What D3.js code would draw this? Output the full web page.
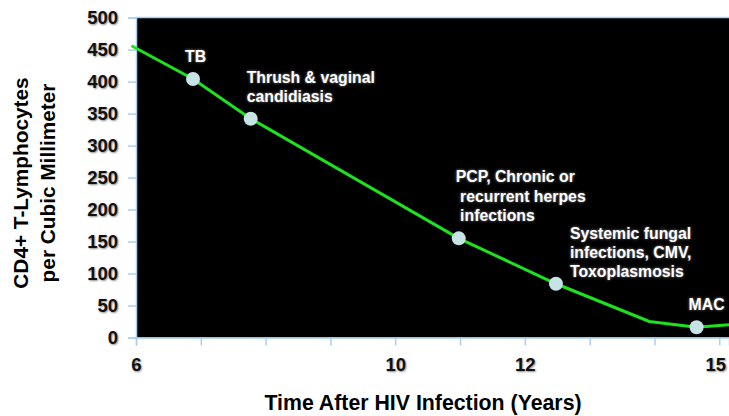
<!DOCTYPE html>
<html>
<head>
<meta charset="utf-8">
<script src="https://cdn.jsdelivr.net/npm/d3@7"></script>
<style>
  body { margin: 0; background: #fff; }
  #chart text { font-family: "Liberation Sans", Arial, sans-serif; font-weight: bold; }
  .tickText { text-shadow: 1px 1px 2px rgba(0,0,0,0.45); }
  .note { fill: #fff; white-space: pre; text-shadow: 0 0 3px rgba(255,255,255,0.55); }
</style>
</head>
<body>
<div id="chart"></div>
<script>
// CD4 decline curve (years after infection, cells per mm3)
let years = [5.93, 6.88, 7.77, 10.98, 12.48, 13.92, 14.65, 15.15]
let cd4 = [456, 404, 342, 155, 84, 25, 16, 20]

// Opportunistic infections marked on the curve
let eventYears = [6.88, 7.77, 10.98, 12.48, 14.65]
let eventCd4 = [404, 342, 155, 84, 16]
let eventLabels = [
    ["TB"],
    ["Thrush & vaginal", "candidiasis"],
    ["PCP, Chronic or", " recurrent herpes", " infections"],
    ["Systemic fungal", "infections, CMV,", "Toxoplasmosis"],
    ["MAC"]
]

// Axis ticks
let xTicks = [6, 7, 8, 9, 10, 11, 12, 13, 14, 15]
let xTickLabels = ["6", "", "", "", "10", "", "12", "", "", "15"]
let yTicks = [0, 50, 100, 150, 200, 250, 300, 350, 400, 450, 500]

const width = 729
const height = 416
const plotLeft = 136, plotRight = 729, plotTop = 17.6, plotBottom = 337.5

const svg = d3.select("#chart").append("svg")
    .attr("width", width)
    .attr("height", height)

const xScale = d3.scaleLinear().domain([6, 15.15]).range([plotLeft, plotRight])
const yScale = d3.scaleLinear().domain([0, 500]).range([plotBottom, plotTop])

// black plot area
svg.append("rect")
    .attr("x", plotLeft).attr("y", plotTop)
    .attr("width", plotRight - plotLeft).attr("height", plotBottom - plotTop)
    .attr("fill", "#000")

// y axis
const yAxis = d3.axisLeft(yScale).tickValues(yTicks).tickSize(8).tickPadding(10)
const gy = svg.append("g").attr("transform", `translate(${plotLeft},0)`).call(yAxis)
gy.select(".domain").attr("stroke", "#a9cff0").attr("stroke-width", 1.5)
gy.selectAll(".tick line").attr("stroke", "#a9cff0").attr("stroke-width", 1.5)
gy.selectAll(".tick text")
    .attr("class", "tickText")
    .attr("fill", "#111")
    .style("font-size", "18.5px")

// x axis
const xAxis = d3.axisBottom(xScale).tickValues(xTicks)
    .tickFormat((d, i) => xTickLabels[i]).tickSize(8).tickPadding(12)
const gx = svg.append("g").attr("transform", `translate(0,${plotBottom})`).call(xAxis)
gx.select(".domain").attr("stroke", "#a9cff0").attr("stroke-width", 1.5)
gx.selectAll(".tick line").attr("stroke", "#a9cff0").attr("stroke-width", 1.5)
gx.selectAll(".tick text")
    .attr("class", "tickText")
    .attr("fill", "#111")
    .style("font-size", "18.5px")
    .attr("dx", (d, i) => i == xTicks.length - 1 ? -4 : 0)

// top border of the plot
svg.append("line")
    .attr("x1", plotLeft).attr("x2", plotRight)
    .attr("y1", plotTop).attr("y2", plotTop)
    .attr("stroke", "#a9cff0").attr("stroke-width", 1.5)

// the curve
const line = d3.line()
    .x((d, i) => xScale(years[i]))
    .y(d => yScale(d))

svg.append("path")
    .datum(cd4)
    .attr("d", line)
    .attr("fill", "none")
    .attr("stroke", "#1ee21e")
    .attr("stroke-width", 3)

// markers
svg.selectAll("circle.event")
    .data(eventYears)
    .enter()
    .append("circle")
    .attr("class", "event")
    .attr("cx", d => xScale(d))
    .attr("cy", (d, i) => yScale(eventCd4[i]))
    .attr("r", 7)
    .attr("fill", "#c6e3e6")

// annotation placement relative to each marker
let noteOffsets = [[-8, -22.5], [-4, -41.6], [-3, -61.6], [14, -50.4], [-8, -23]]
const lineGap = 19.3

eventLabels.forEach((lines, i) => {
    let x0 = xScale(eventYears[i]) + noteOffsets[i][0]
    let y0 = yScale(eventCd4[i]) + noteOffsets[i][1]
    let t = svg.append("text")
        .attr("class", "note")
        .attr("x", x0)
        .attr("y", y0)
        .style("font-size", "15.8px")
    lines.forEach((s, j) => {
        t.append("tspan")
            .attr("x", x0)
            .attr("y", y0 + j * lineGap)
            .attr("dy", "0.35em")
            .text(s)
    })
})

// axis titles
svg.append("text")
    .attr("x", 423)
    .attr("y", 410)
    .attr("text-anchor", "middle")
    .style("font-size", "21.3px")
    .attr("fill", "#000")
    .text("Time After HIV Infection (Years)")

const yTitle = svg.append("text")
    .attr("transform", "translate(0,183) rotate(-90)")
    .attr("text-anchor", "middle")
    .style("font-size", "20.8px")
    .attr("fill", "#000")
yTitle.append("tspan").attr("x", 0).attr("y", 28).text("CD4+ T-Lymphocytes")
yTitle.append("tspan").attr("x", 0).attr("y", 55).text("per Cubic Millimeter")
</script>
</body>
</html>
